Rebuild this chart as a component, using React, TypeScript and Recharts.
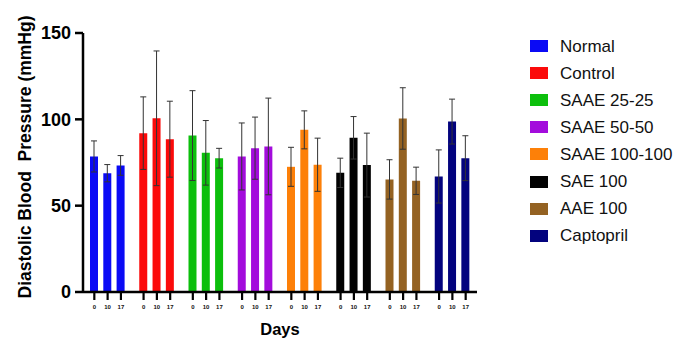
import React from 'react';
import { BarChart, Bar, XAxis, YAxis, ErrorBar, Cell, Legend } from 'recharts';

const groups = ['Normal', 'Control', 'SAAE 25-25', 'SAAE 50-50', 'SAAE 100-100', 'SAE 100', 'AAE 100', 'Captopril'];
const groupColors = ['#0a0af5', '#fb0a0a', '#0cbf0c', '#a30cdc', '#fd8008', '#020202', '#946222', '#03037e'];
const dayLabels = ['0', '10', '17'];
const day0 = [78.5, 92, 90.6, 78.5, 72.5, 69, 65.2, 66.9];
const day10 = [68.8, 100.6, 80.6, 83.3, 93.9, 89.3, 100.5, 98.7];
const day17 = [73.3, 88.5, 77.5, 84.3, 73.7, 73.5, 64.4, 77.5];
const err0 = [9, 21, 26, 19.4, 11.3, 8.5, 11.4, 15.4];
const err10 = [5, 39, 18.7, 18, 11, 12.3, 17.8, 13];
const err17 = [5.7, 22, 5.7, 28, 15.4, 18.5, 7.9, 13];
const yTicks = [0, 50, 100, 150];

const data = groups.map((g, i) => ({
  group: g,
  d0: day0[i],
  d10: day10[i],
  d17: day17[i],
  e0: err0[i],
  e10: err10[i],
  e17: err17[i],
}));

const FONT = '"Liberation Sans", Arial, Helvetica, sans-serif';
const BAR_SIZE = 8;
const BAR_GAP = 5.3;

const XTick = (props: any) => {
  const { x, y } = props;
  const step = BAR_SIZE + BAR_GAP;
  return (
    <g>
      {dayLabels.map((d, i) => {
        const cx = x + (i - 1) * step;
        return (
          <g key={d}>
            <line x1={cx} x2={cx} y1={y} y2={y + 8} stroke="#000" strokeWidth={2.2} />
            <text x={cx} y={y + 17} textAnchor="middle" fontSize={6} fontWeight="bold" fontFamily={FONT} fill="#111">
              {d}
            </text>
          </g>
        );
      })}
    </g>
  );
};

const YLabel = (props: any) => {
  const vb = props.viewBox || { x: 0, y: 0, width: 0, height: 0 };
  const x = vb.x + 25;
  const y = vb.y + vb.height / 2 - 5.5;
  return (
    <text
      x={x}
      y={y}
      transform={`rotate(-90, ${x}, ${y})`}
      textAnchor="middle"
      dominantBaseline="central"
      fontSize={17.5}
      fontWeight="bold"
      fontFamily={FONT}
      fill="#000"
      style={{ whiteSpace: 'pre' }}
    >
      {'Diastolic Blood  Pressure (mmHg)'}
    </text>
  );
};

const XLabel = (props: any) => {
  const vb = props.viewBox || { x: 0, y: 0, width: 0, height: 0 };
  return (
    <text
      x={vb.x + vb.width / 2}
      y={vb.y + 37}
      textAnchor="middle"
      dominantBaseline="central"
      fontSize={16.5}
      fontWeight="bold"
      fontFamily={FONT}
      fill="#000"
    >
      Days
    </text>
  );
};

const LegendContent = () => (
  <div style={{ fontFamily: FONT, fontSize: 17, color: '#111' }}>
    {groups.map((g, i) => (
      <div key={g} style={{ display: 'flex', alignItems: 'center', height: 27.1 }}>
        <div style={{ width: 18, height: 12, background: groupColors[i], marginRight: 12 }} />
        <span style={{ lineHeight: '17px' }}>{g}</span>
      </div>
    ))}
  </div>
);

export default function App() {
  return (
    <div style={{ position: 'absolute', left: 0, top: 0, width: 699, height: 352, background: '#fff' }}>
      <BarChart
        width={699}
        height={352}
        data={data}
        margin={{ top: 33, right: 222, bottom: 0, left: 0 }}
        barSize={BAR_SIZE}
        barGap={BAR_GAP}
      >
        <XAxis
          dataKey="group"
          height={60}
          axisLine={{ stroke: '#000', strokeWidth: 2.5 }}
          tickLine={false}
          tickSize={0}
          tickMargin={0}
          tick={<XTick />}
          interval={0}
          label={<XLabel />}
        />
        <YAxis
          width={83}
          domain={[0, 150]}
          ticks={yTicks}
          axisLine={{ stroke: '#000', strokeWidth: 2.5 }}
          tickLine={{ stroke: '#000', strokeWidth: 2.5 }}
          tickSize={8}
          tickMargin={4}
          tick={{ fontSize: 18, fontWeight: 'bold', fill: '#000', fontFamily: FONT }}
          label={<YLabel />}
        />
        <Legend
          layout="vertical"
          align="center"
          verticalAlign="middle"
          wrapperStyle={{ left: 530, top: 32.5, width: 168 }}
          content={<LegendContent />}
        />
        <Bar dataKey="d0" isAnimationActive={false}>
          {data.map((_, i) => (
            <Cell key={i} fill={groupColors[i]} />
          ))}
          <ErrorBar dataKey="e0" width={3} stroke="#333" strokeWidth={1} />
        </Bar>
        <Bar dataKey="d10" isAnimationActive={false}>
          {data.map((_, i) => (
            <Cell key={i} fill={groupColors[i]} />
          ))}
          <ErrorBar dataKey="e10" width={3} stroke="#333" strokeWidth={1} />
        </Bar>
        <Bar dataKey="d17" isAnimationActive={false}>
          {data.map((_, i) => (
            <Cell key={i} fill={groupColors[i]} />
          ))}
          <ErrorBar dataKey="e17" width={3} stroke="#333" strokeWidth={1} />
        </Bar>
      </BarChart>
    </div>
  );
}
